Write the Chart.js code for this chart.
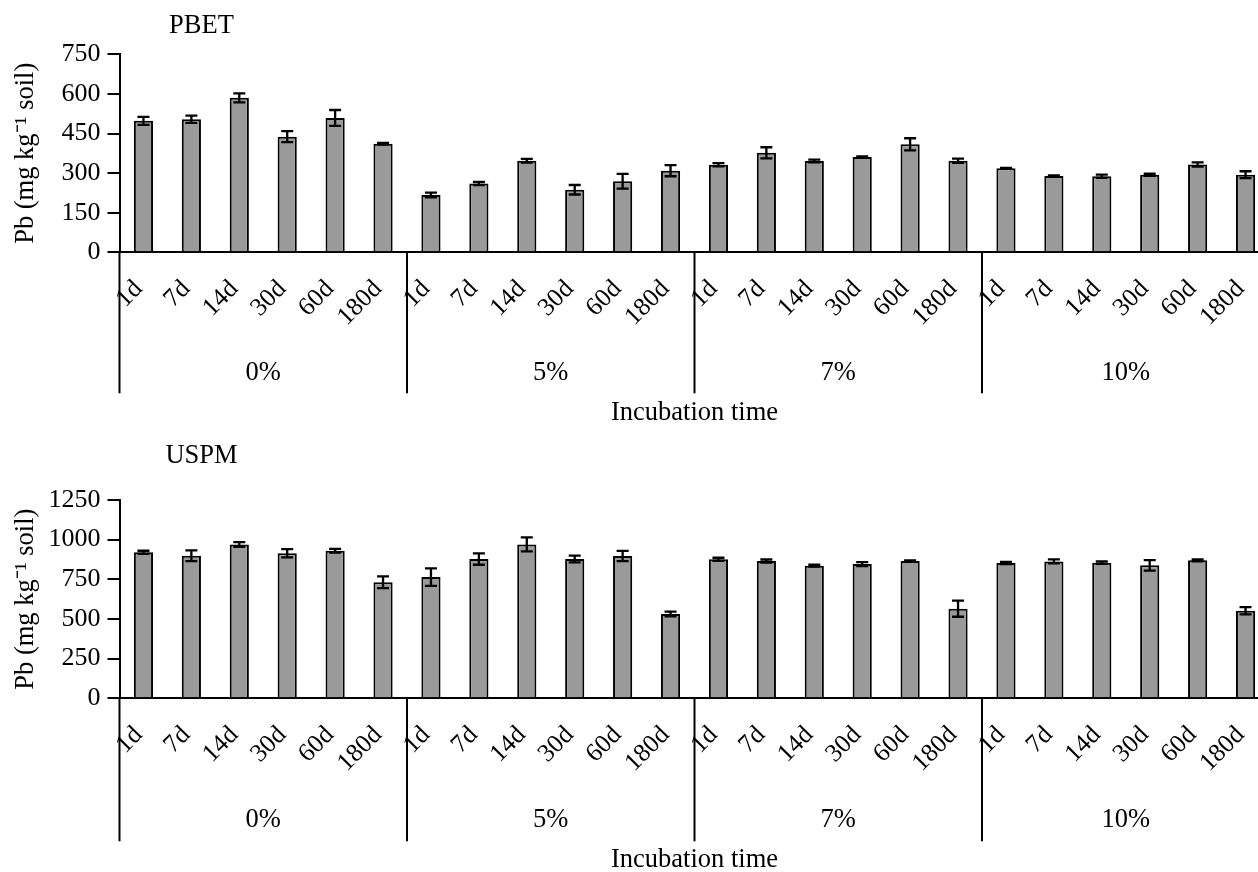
<!DOCTYPE html>
<html>
<head>
<meta charset="utf-8">
<script src="https://cdn.jsdelivr.net/npm/chart.js@4.4.1/dist/chart.umd.min.js"></script>
<style>
  html, body { margin: 0; padding: 0; background: #ffffff; overflow: hidden; width: 1258px; height: 872px; }
  canvas { position: absolute; left: 0; }
  #c1 { top: 0; }
  #c2 { top: 420px; }
</style>
</head>
<body>
<canvas id="c1" width="1272" height="420"></canvas>
<canvas id="c2" width="1272" height="452"></canvas>
<script>
const categories = ['1d', '7d', '14d', '30d', '60d', '180d'];
const groups = ['0%', '5%', '7%', '10%'];
const axisLabelX = 'Incubation time';
const axisLabelY = 'Pb (mg kg\u207B\u00B9 soil)';

const pbetTitle = 'PBET';
const pbetValues = [498, 504, 585, 438, 509, 411, 217, 261, 347, 237, 269, 309, 332, 377, 346, 361, 409, 347, 318, 289, 288, 294, 333, 294];
const pbetErrors = [15, 14, 17, 21, 30, 3, 9, 6, 7, 18, 28, 21, 6, 21, 5, 2, 23, 8, 2, 2, 6, 4, 8, 13];
const pbetTicks = [0, 150, 300, 450, 600, 750];

const uspmTitle = 'USPM';
const uspmValues = [920, 899, 970, 914, 930, 731, 764, 878, 970, 878, 897, 531, 876, 865, 836, 846, 865, 565, 853, 863, 855, 838, 870, 552];
const uspmErrors = [10, 34, 15, 26, 12, 37, 55, 36, 44, 21, 32, 15, 10, 10, 6, 12, 5, 51, 7, 13, 8, 33, 6, 23];
const uspmTicks = [0, 250, 500, 750, 1000, 1250];

const FONT = "'Liberation Serif', 'Times New Roman', serif";
const labels = groups.flatMap(() => categories);

function makeChart(canvasId, pageTop, title, titleY, values, errors, ticks, plotTop, plotBottom, dividerLen, groupY, axisTitleY) {
  const canvas = document.getElementById(canvasId);
  const axisBottom = plotBottom - pageTop;
  const xAxisHeight = canvas.height - axisBottom;

  const errorBars = {
    id: 'errorBars',
    afterDatasetsDraw(chart) {
      const ctx = chart.ctx;
      const meta = chart.getDatasetMeta(0);
      const y = chart.scales.y;
      ctx.save();
      ctx.strokeStyle = '#000';
      ctx.lineWidth = 2.3;
      meta.data.forEach((bar, i) => {
        const v = values[i], e = errors[i];
        const yt = y.getPixelForValue(v + e);
        const yb = y.getPixelForValue(v - e);
        const cx = bar.x, hw = 6;
        ctx.beginPath();
        ctx.moveTo(cx, yt); ctx.lineTo(cx, yb);
        ctx.moveTo(cx - hw, yt); ctx.lineTo(cx + hw, yt);
        ctx.moveTo(cx - hw, yb); ctx.lineTo(cx + hw, yb);
        ctx.stroke();
      });
      ctx.restore();
    }
  };

  const decorations = {
    id: 'decorations',
    afterDraw(chart) {
      const ctx = chart.ctx;
      const area = chart.chartArea;
      const n = labels.length;
      const catW = (area.right - area.left) / n;
      ctx.save();
      ctx.strokeStyle = '#000';
      ctx.lineWidth = 2;
      for (let g = 0; g <= groups.length; g++) {
        const x = area.left + g * categories.length * catW;
        ctx.beginPath();
        ctx.moveTo(x, area.bottom);
        ctx.lineTo(x, area.bottom + dividerLen);
        ctx.stroke();
      }
      ctx.fillStyle = '#000';
      ctx.font = '26.5px ' + FONT;
      ctx.textAlign = 'center';
      ctx.textBaseline = 'middle';
      groups.forEach((g, gi) => {
        const x = area.left + (gi + 0.5) * categories.length * catW;
        ctx.fillText(g, x, area.bottom + groupY);
      });
      ctx.fillText(axisLabelX, (area.left + area.right) / 2, area.bottom + axisTitleY);
      ctx.fillText(title, 201.5, titleY - pageTop);
      ctx.restore();
    }
  };

  return new Chart(canvas, {
    type: 'bar',
    data: {
      labels: labels,
      datasets: [{
        data: values,
        backgroundColor: '#9a9a9a',
        borderColor: '#000',
        borderWidth: 2,
        barPercentage: 0.4,
        categoryPercentage: 1.0
      }]
    },
    options: {
      responsive: false,
      animation: false,
      devicePixelRatio: 1,
      layout: { padding: { top: plotTop - pageTop, right: 2.5, left: 0, bottom: 0 } },
      plugins: { legend: { display: false }, tooltip: { enabled: false }, title: { display: false } },
      scales: {
        x: {
          grid: { display: false, drawTicks: false },
          border: { color: '#000', width: 2 },
          ticks: {
            color: '#000',
            font: { family: FONT, size: 25.5 },
            minRotation: 45,
            maxRotation: 45,
            padding: 22,
            labelOffset: -5,
            autoSkip: false
          },
          afterFit(scale) {
            scale.height = xAxisHeight;
            scale.paddingLeft = 0;
            scale.paddingRight = 0;
          }
        },
        y: {
          min: ticks[0],
          max: ticks[ticks.length - 1],
          afterBuildTicks(scale) { scale.ticks = ticks.map(v => ({ value: v })); },
          grid: { display: true, drawOnChartArea: false, drawTicks: true, tickLength: 12, color: '#000', lineWidth: 2 },
          border: { color: '#000', width: 2 },
          ticks: {
            color: '#000',
            font: { family: FONT, size: 26 },
            padding: 7,
            callback: (v) => String(v)
          },
          title: {
            display: true,
            text: axisLabelY,
            color: '#000',
            font: { family: FONT, size: 26.5 },
            padding: { top: 10, bottom: 0 }
          },
          afterFit(scale) {
            scale.width = 119.5;
            scale.paddingTop = 0;
            scale.paddingBottom = 0;
          }
        }
      }
    },
    plugins: [errorBars, decorations]
  });
}

makeChart('c1', 0, pbetTitle, 26, pbetValues, pbetErrors, pbetTicks, 54.3, 252.3, 141, 121, 161);
makeChart('c2', 420, uspmTitle, 456, uspmValues, uspmErrors, uspmTicks, 500, 698.3, 143, 122, 162);
</script>
</body>
</html>
